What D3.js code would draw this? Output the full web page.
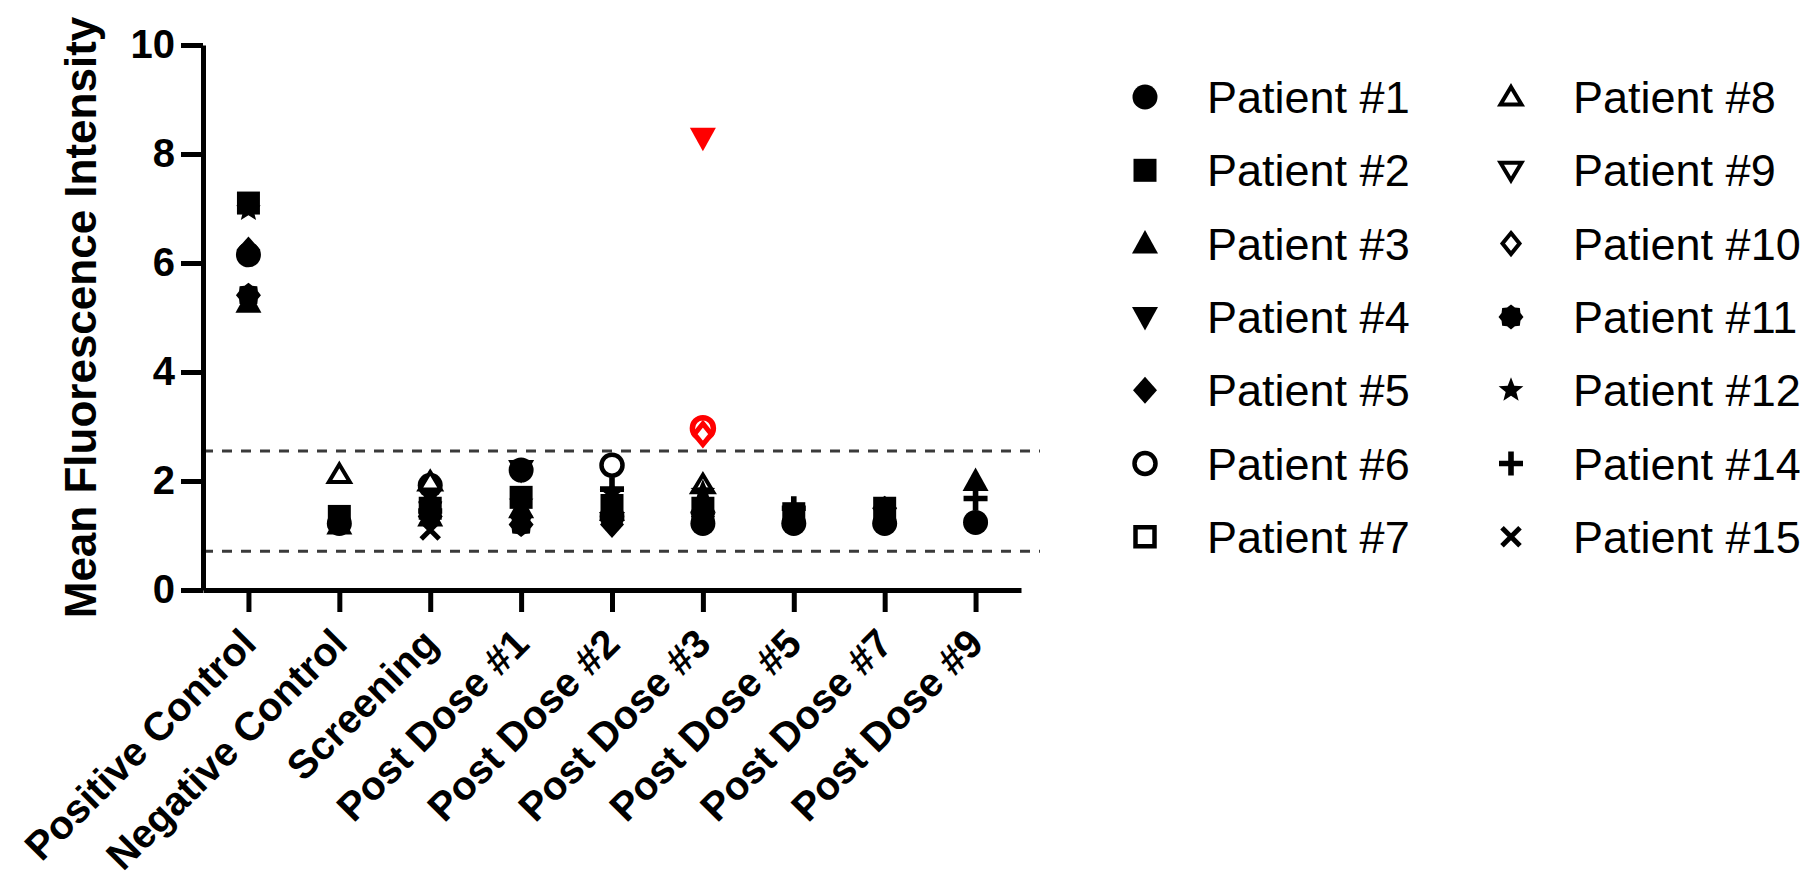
<!DOCTYPE html>
<html>
<head>
<meta charset="utf-8">
<script src="https://cdn.jsdelivr.net/npm/d3@7"></script>
<style>
  html, body { margin: 0; padding: 0; background: #fff; }
  svg { display: block; }
  text { font-family: "Liberation Sans", Arial, Helvetica, sans-serif; fill: #000; }
</style>
</head>
<body>
<svg id="chart" width="1800" height="889"></svg>
<script>
// ---------------- data ----------------
const categories = ["Positive Control", "Negative Control", "Screening", "Post Dose #1",
  "Post Dose #2", "Post Dose #3", "Post Dose #5", "Post Dose #7", "Post Dose #9"];
const patients = ["Patient #1", "Patient #2", "Patient #3", "Patient #4", "Patient #5",
  "Patient #6", "Patient #7", "Patient #8", "Patient #9", "Patient #10",
  "Patient #11", "Patient #12", "Patient #14", "Patient #15"];
const symbolTypes = ["circle", "square", "triUp", "triDown", "diamond",
  "oCircle", "oSquare", "oTriUp", "oTriDown", "oDiamond",
  "gear", "star", "plus", "cross"];
const yTicks = [0, 2, 4, 6, 8, 10];
const cutoffs = [2.55, 0.71];

// values per patient, in category order (null = not shown)
const p1  = [6.15, 1.22, 1.92, 2.20, 1.35, 1.22, 1.22, 1.22, 1.24];
const p2  = [7.10, 1.35, 1.50, 1.70, 1.55, 1.50, 1.40, 1.50, null];
const p3  = [5.27, 1.20, 1.35, 1.50, 1.45, 1.60, null, null, 2.00];
const p4  = [null, null, null, 2.20, 1.25, null, null, null, null];
const p5  = [6.24, null, 1.60, 1.35, 1.20, 1.35, null, null, null];
const p6  = [null, null, null, null, 2.29, null, null, null, null];
const p7  = [null, null, null, null, null, null, null, null, null];
const p8  = [null, 2.12, 1.98, null, null, 1.93, null, null, null];
const p9  = [null, null, null, null, null, null, null, null, null];
const p10 = [null, null, null, null, null, null, null, null, null];
const p11 = [5.41, null, 1.35, 1.20, 1.30, 1.40, null, 1.50, null];
const p12 = [6.98, null, 1.55, 1.60, 1.78, 1.80, null, null, null];
const p14 = [null, null, 1.45, null, 1.85, null, 1.50, null, 1.68];
const p15 = [null, null, 1.10, null, null, null, null, null, null];
const seriesValues = [p1, p2, p3, p4, p5, p6, p7, p8, p9, p10, p11, p12, p14, p15];

// points above the cutoff, drawn in red
const flaggedPatients   = ["Patient #4", "Patient #6", "Patient #10"];
const flaggedCategories = ["Post Dose #3", "Post Dose #3", "Post Dose #3"];
const flaggedValues     = [8.30, 2.97, 2.86];

// ---------------- symbols ----------------
function poly(pts) { return "M" + pts.map(p => p[0].toFixed(2) + "," + p[1].toFixed(2)).join("L") + "Z"; }
function circ(r) { return `M${r},0A${r},${r} 0 1,1 ${-r},0A${r},${r} 0 1,1 ${r},0Z`; }
function radial(n, r1, r2, start) {
  const pts = [];
  for (let i = 0; i < n * 2; i++) {
    const a = start + i * Math.PI / n;
    const r = i % 2 === 0 ? r1 : r2;
    pts.push([r * Math.cos(a), r * Math.sin(a)]);
  }
  return poly(pts);
}
function symbolSpec(type) {
  switch (type) {
    case "circle":   return { d: circ(12.5), filled: true };
    case "square":   return { d: poly([[-11.5,-11.5],[11.5,-11.5],[11.5,11.5],[-11.5,11.5]]), filled: true };
    case "triUp":    return { d: poly([[0,-13.5],[13,10],[-13,10]]), filled: true };
    case "triDown":  return { d: poly([[0,13.5],[13,-10],[-13,-10]]), filled: true };
    case "diamond":  return { d: poly([[0,-13.5],[12,0],[0,13.5],[-12,0]]), filled: true };
    case "oCircle":  return { d: circ(10.5), filled: false, sw: 4.5 };
    case "oSquare":  return { d: poly([[-9.5,-9.5],[9.5,-9.5],[9.5,9.5],[-9.5,9.5]]), filled: false, sw: 4.5 };
    case "oTriUp":   return { d: poly([[0,-10],[10.5,7.5],[-10.5,7.5]]), filled: false, sw: 4 };
    case "oTriDown": return { d: poly([[0,10],[10.5,-7.5],[-10.5,-7.5]]), filled: false, sw: 4 };
    case "oDiamond": return { d: poly([[0,-10.5],[8.5,0],[0,10.5],[-8.5,0]]), filled: false, sw: 4 };
    case "gear":     return { d: radial(8, 12.5, 10.2, -Math.PI / 2), filled: true };
    case "star":     return { d: radial(5, 13, 5.6, -Math.PI / 2), filled: true };
    case "plus":     return { d: "M-2.8,-12H2.8V-2.8H12V2.8H2.8V12H-2.8V2.8H-12V-2.8H-2.8Z", filled: true };
    case "cross":    return { d: "M-9,-9L9,9M9,-9L-9,9", filled: false, line: true, sw: 5 };
  }
}
function drawSymbol(g, type, cx, cy, color, extra) {
  const s = symbolSpec(type);
  const p = g.append("path").attr("d", s.d).attr("transform", `translate(${cx},${cy})`);
  if (s.filled) p.attr("fill", color).attr("stroke", "none");
  else if (s.line) p.attr("fill", "none").attr("stroke", color).attr("stroke-width", s.sw);
  else p.attr("fill", "#fff").attr("stroke", color).attr("stroke-width", s.sw + (extra || 0)).attr("stroke-linejoin", "miter");
}

// ---------------- layout ----------------
const svg = d3.select("#chart");
const x = d3.scalePoint().domain(categories).range([203, 1021]).padding(0.5);
const y = d3.scaleLinear().domain([0, 10]).range([590, 45]);

// cutoff dashed lines
const cut = svg.append("g");
cutoffs.forEach(v => {
  cut.append("line").attr("x1", 203).attr("x2", 1040).attr("y1", y(v)).attr("y2", y(v))
    .attr("stroke", "#3a3a3a").attr("stroke-width", 3).attr("stroke-dasharray", "10,9");
});

// axes
const yAxis = svg.append("g").attr("transform", "translate(203,0)")
  .call(d3.axisLeft(y).tickValues(yTicks).tickSize(22).tickSizeOuter(0).tickPadding(6));
yAxis.select(".domain").attr("stroke", "#000").attr("stroke-width", 5);
yAxis.selectAll(".tick line").attr("stroke", "#000").attr("stroke-width", 5);
yAxis.selectAll(".tick text").attr("font-size", 40).attr("font-weight", "bold")
  .attr("font-family", "'Liberation Sans', Arial, sans-serif").attr("fill", "#000");

const xAxis = svg.append("g").attr("transform", "translate(0,590)")
  .call(d3.axisBottom(x).tickSize(22).tickSizeOuter(0));
xAxis.select(".domain").attr("stroke", "#000").attr("stroke-width", 5);
xAxis.selectAll(".tick line").attr("stroke", "#000").attr("stroke-width", 5);
xAxis.selectAll(".tick text").remove();

svg.append("g").selectAll("text").data(categories).join("text")
  .attr("transform", d => `translate(${x(d) + 10},646) rotate(-45)`)
  .attr("text-anchor", "end")
  .attr("font-size", 40).attr("font-weight", "bold")
  .text(d => d);

svg.append("text")
  .attr("transform", `translate(96,${(y(0) + y(10)) / 2}) rotate(-90)`)
  .attr("text-anchor", "middle")
  .attr("font-size", 44).attr("font-weight", "bold")
  .text("Mean Fluorescence Intensity");

// points
const pts = svg.append("g");
seriesValues.forEach((vals, i) => {
  vals.forEach((v, j) => {
    if (v === null) return;
    drawSymbol(pts, symbolTypes[i], x(categories[j]), y(v), "#000");
  });
});
flaggedValues.forEach((v, k) => {
  const i = patients.indexOf(flaggedPatients[k]);
  drawSymbol(pts, symbolTypes[i], x(flaggedCategories[k]), y(v), "#ff0000", 1);
});

// legend
const leg = svg.append("g");
patients.forEach((name, i) => {
  const col = Math.floor(i / 7), row = i % 7;
  const mx = col === 0 ? 1145 : 1511;
  const tx = col === 0 ? 1207 : 1573;
  const cy = 97 + row * 73.3;
  drawSymbol(leg, symbolTypes[i], mx, cy, "#000");
  leg.append("text").attr("x", tx).attr("y", cy + 16).attr("font-size", 45).text(name);
});
</script>
</body>
</html>
